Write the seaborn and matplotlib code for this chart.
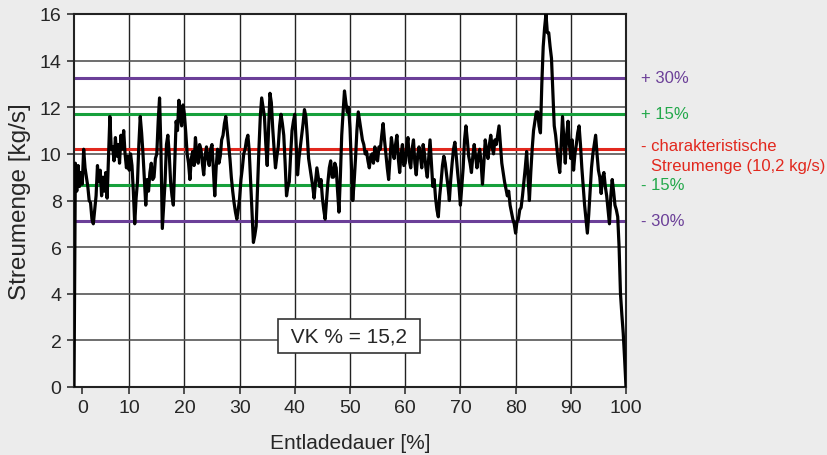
"""
Streumenge over Entladedauer with characteristic flow rate bands.
"""

import numpy as np
import pandas as pd
import matplotlib.pyplot as plt
import seaborn as sns

# Figure settings
FIG_DPI = 100
BG_COLOR = "#ececec"
TICK_FONT = ["Liberation Sans Narrow", "Liberation Sans", "DejaVu Sans"]
TEXT_FONT = ["Liberation Sans", "DejaVu Sans"]

# Reference levels: characteristic flow rate and +/- 15 %, 30 % bands (kg/s)
LEVEL_VALUES = [13.26, 11.73, 10.2, 8.67, 7.14]
LEVEL_COLORS = ["#6b3f98", "#17a03c", "#e2281e", "#17a03c", "#6b3f98"]
LEVEL_TEXT_COLORS = ["#6b3f98", "#22a84a", "#e2281e", "#22a84a", "#6b3f98"]
LEVEL_LABELS = ["+ 30%", "+ 15%", "- charakteristische", "- 15%", "- 30%"]
CHAR_LABEL_2 = "Streumenge (10,2 kg/s)"

X_TICK_LABELS = ["0", "10", "20", "30", "40", "50", "60", "70", "80", "90", "100"]
Y_TICKS = [0, 2, 4, 6, 8, 10, 12, 14, 16]

VK_TEXT = " VK % = 15,2 "

# Measured flow rate, sampled every 0.25 % of discharge time (10 values per row)
discharge_pct = np.arange(0, 100.001, 0.25)
flow_rate = [
    0.0, 9.6, 8.4, 9.5, 8.6, 9.2, 8.7, 10.2, 9.4, 9.0,         # 0
    8.6, 8.0, 7.9, 7.2, 7.0, 7.6, 8.2, 9.5, 8.8, 9.3,          # 2.5
    8.2, 9.0, 8.4, 9.2, 8.1, 9.8, 11.6, 10.2, 10.3, 9.7,       # 5
    10.7, 9.9, 10.4, 9.6, 10.8, 10.2, 11.0, 10.0, 9.4, 9.9,    # 7.5
    9.3, 10.0, 9.5, 8.4, 7.0, 8.1, 8.8, 10.4, 11.6, 10.9,      # 10
    10.0, 8.9, 7.8, 8.9, 8.4, 9.2, 9.6, 8.9, 9.0, 9.8,         # 12.5
    10.0, 11.4, 12.4, 10.2, 6.8, 7.8, 8.8, 10.4, 10.8, 10.0,   # 15
    8.8, 8.2, 7.8, 9.6, 11.4, 11.0, 12.3, 11.6, 11.2, 12.1,    # 17.5
    11.7, 10.9, 10.0, 9.6, 8.9, 9.8, 10.1, 9.5, 10.7, 10.0,    # 20
    9.6, 10.4, 10.2, 9.6, 9.1, 9.9, 10.3, 9.8, 9.5, 10.2,      # 22.5
    10.4, 9.3, 8.2, 9.4, 10.2, 9.6, 9.9, 10.6, 10.8, 11.3,     # 25
    11.6, 11.0, 10.4, 9.8, 9.0, 8.4, 7.9, 7.5, 7.2, 7.6,       # 27.5
    8.1, 8.9, 9.4, 10.0, 10.2, 10.6, 10.8, 10.1, 8.8, 7.4,     # 30
    6.2, 6.5, 6.9, 8.6, 10.2, 11.6, 12.4, 12.0, 11.6, 10.4,    # 32.5
    9.5, 11.0, 12.6, 12.2, 11.1, 10.2, 9.4, 9.9, 10.3, 11.2,   # 35
    11.7, 11.3, 10.8, 9.6, 8.2, 8.6, 8.8, 10.0, 11.0, 11.4,    # 37.5
    11.7, 10.4, 9.1, 9.8, 10.3, 10.8, 11.3, 11.9, 11.6, 10.8,  # 40
    9.8, 9.4, 9.0, 8.6, 8.1, 8.8, 9.4, 9.0, 8.6, 8.9,          # 42.5
    8.1, 7.6, 7.2, 8.0, 8.8, 9.4, 9.7, 9.0, 9.0, 9.6,          # 45
    9.4, 8.4, 7.5, 9.0, 10.8, 11.8, 12.7, 12.2, 11.8, 12.0,    # 47.5
    11.1, 9.6, 8.0, 8.8, 9.8, 11.0, 11.8, 11.4, 11.0, 10.6,    # 50
    10.4, 10.0, 10.1, 9.7, 9.4, 9.9, 10.0, 9.6, 10.3, 9.8,     # 52.5
    9.7, 10.3, 10.2, 10.8, 11.3, 10.6, 10.0, 9.4, 8.9, 9.8,    # 55
    10.7, 10.2, 9.8, 10.4, 10.8, 9.8, 9.2, 10.0, 10.4, 9.5,    # 57.5
    9.6, 10.3, 10.7, 9.7, 9.4, 10.2, 10.6, 9.6, 9.1, 9.9,      # 60
    10.3, 9.9, 9.4, 10.4, 10.0, 9.4, 9.0, 9.8, 10.6, 9.6,      # 62.5
    8.6, 8.9, 8.1, 7.6, 7.3, 8.2, 8.8, 9.5, 9.9, 9.6,          # 65
    9.1, 8.6, 8.0, 8.9, 9.6, 10.2, 10.5, 9.9, 9.2, 8.6,        # 67.5
    7.8, 8.6, 9.4, 10.6, 11.2, 10.6, 9.9, 9.6, 9.2, 9.9,       # 70
    10.4, 9.9, 9.4, 9.9, 10.2, 9.6, 8.7, 9.6, 10.6, 10.1,      # 72.5
    9.8, 10.4, 10.8, 10.3, 10.0, 10.6, 10.4, 10.8, 11.2, 10.4, # 75
    9.6, 9.2, 8.8, 8.5, 8.2, 8.4, 7.8, 7.5, 7.2, 7.0,          # 77.5
    6.6, 7.1, 7.2, 7.6, 7.7, 8.2, 8.8, 9.4, 10.1, 9.0,         # 80
    8.0, 9.2, 10.2, 11.0, 11.4, 11.8, 11.8, 11.2, 10.9, 13.0,  # 82.5
    14.6, 15.4, 16.0, 15.2, 15.2, 14.6, 14.1, 12.6, 11.2, 10.8,  # 85
    10.2, 9.6, 9.2, 10.4, 11.6, 10.6, 9.6, 10.8, 11.4, 10.4,   # 87.5
    9.8, 10.6, 9.3, 10.0, 10.4, 10.9, 11.2, 10.4, 9.4, 8.6,    # 90
    7.8, 7.2, 6.6, 7.4, 8.4, 9.4, 10.0, 10.4, 10.8, 10.0,      # 92.5
    9.3, 9.0, 8.3, 9.0, 9.2, 8.6, 8.2, 7.6, 7.0, 8.2,          # 95
    8.9, 8.4, 7.8, 7.6, 7.3, 6.0, 4.0, 3.1, 2.3, 1.2,          # 97.5
    0.0,                                                       # 100
]


def main():
    sns.set_style("white")
    plt.rcParams["font.family"] = TEXT_FONT

    df = pd.DataFrame({"dauer": discharge_pct, "menge": flow_rate})

    fig = plt.figure(figsize=(8.27, 4.56), dpi=FIG_DPI, facecolor=BG_COLOR)
    ax = fig.add_axes([74 / 827, 1 - 388 / 456, 552 / 827, 373 / 456])
    ax.set_facecolor("white")

    # Grid lines
    for x in range(10, 100, 10):
        ax.axvline(x, color="#222222", lw=1.0, zorder=1)
    for y in Y_TICKS[1:-1]:
        ax.axhline(y, color="#555555", lw=1.2, zorder=1)

    # Reference bands
    for val, col in zip(LEVEL_VALUES, LEVEL_COLORS):
        ax.axhline(val, color=col, lw=2.2, zorder=2)

    sns.lineplot(data=df, x="dauer", y="menge", color="black", lw=2.3,
                 ax=ax, zorder=3)

    ax.set_xlim(0, 100)
    ax.set_ylim(0, 16)
    ax.set_xticks([1.5] + list(range(10, 101, 10)))
    ax.set_xticklabels(X_TICK_LABELS, family=TICK_FONT, fontsize=14)
    ax.set_yticks(Y_TICKS)
    ax.set_yticklabels([str(v) for v in Y_TICKS], family=TICK_FONT, fontsize=14)
    ax.tick_params(axis="both", direction="out", length=5, width=1.2,
                   color="#333333", pad=4, bottom=True, left=True)

    for spine in ax.spines.values():
        spine.set_color("#222222")
        spine.set_linewidth(1.5)

    ax.set_xlabel("Entladedauer [%]", fontsize=15, labelpad=12)
    ax.set_ylabel("Streumenge [kg/s]", fontsize=17.5, labelpad=6)

    # Labels for the reference bands, right of the plot
    for val, col, lab in zip(LEVEL_VALUES, LEVEL_TEXT_COLORS, LEVEL_LABELS):
        y_txt = val + 0.15 if lab.startswith("- char") else val
        ax.text(102.7, y_txt, lab, color=col, fontsize=12, va="center",
                ha="left", clip_on=False)
    ax.text(104.5, LEVEL_VALUES[2] - 0.7, CHAR_LABEL_2, color=LEVEL_TEXT_COLORS[2],
            fontsize=12, va="center", ha="left", clip_on=False)

    # Coefficient of variation box
    ax.text(49.8, 2.2, VK_TEXT, fontsize=15, ha="center", va="center", zorder=4,
            bbox=dict(boxstyle="square,pad=0.35", fc="white", ec="#333333", lw=1.2))

    fig.savefig("out.png", dpi=FIG_DPI, facecolor=BG_COLOR)


if __name__ == "__main__":
    main()
